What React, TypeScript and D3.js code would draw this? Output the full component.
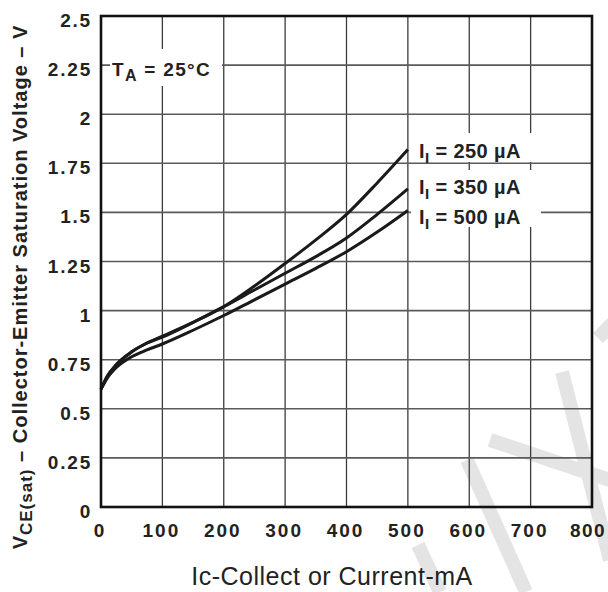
import React from "react";
import * as d3 from "d3";

// collector current (mA) sampled along each curve
const icValues = [0, 10, 25, 50, 75, 100, 150, 200, 250, 300, 350, 400, 450, 500];

// VCE(sat) in volts for each base current
const vce250 = [0.6, 0.665, 0.725, 0.79, 0.835, 0.87, 0.94, 1.02, 1.125, 1.24, 1.36, 1.49, 1.65, 1.82];
const vce350 = [0.6, 0.665, 0.725, 0.79, 0.835, 0.865, 0.94, 1.02, 1.105, 1.19, 1.275, 1.37, 1.49, 1.62];
const vce500 = [0.6, 0.655, 0.71, 0.765, 0.8, 0.83, 0.9, 0.975, 1.055, 1.135, 1.215, 1.3, 1.4, 1.51];

const seriesLabels = ["250 µA", "350 µA", "500 µA"];

const xTicks = [0, 100, 200, 300, 400, 500, 600, 700, 800];
const yTicks = [0, 0.25, 0.5, 0.75, 1, 1.25, 1.5, 1.75, 2, 2.25, 2.5];
const yTickLabels = ["0", "0.25", "0.5", "0.75", "1", "1.25", "1.5", "1.75", "2", "2.25", "2.5"];

// faint watermark strokes in the lower right
const watermark = [
  [467, 460, 526, 592],
  [562, 372, 610, 560],
  [490, 440, 610, 480],
  [418, 545, 440, 592],
  [598, 338, 614, 322],
];

const W = 608;
const H = 592;
const left = 101, right = 592, top = 16, bottom = 507;
const font = "'Liberation Sans', Arial, sans-serif";

export default function App() {
  const x = d3.scaleLinear().domain([0, 800]).range([left, right]);
  const y = d3.scaleLinear().domain([0, 2.5]).range([bottom, top]);

  const line = d3
    .line<number>()
    .x((d, i) => x(icValues[i]))
    .y((d) => y(d))
    .curve(d3.curveMonotoneX);

  const series = [vce250, vce350, vce500];
  // label baselines sit next to each curve end
  const labelY = [158, 194, 224];

  return (
    <svg
      width={W}
      height={H}
      style={{ position: "absolute", left: 0, top: 0, background: "#fff" }}
      fontFamily={font}
    >
      <rect x={0} y={0} width={W} height={H} fill="#fff" />
      {watermark.map((w, i) => (
        <line key={i} x1={w[0]} y1={w[1]} x2={w[2]} y2={w[3]} stroke="#e4e4e4" strokeWidth={14} />
      ))}

      {/* grid */}
      {xTicks.slice(1, -1).map((t) => (
        <line key={"gx" + t} x1={x(t)} x2={x(t)} y1={top} y2={bottom} stroke="#3c3c3c" strokeWidth={1.3} />
      ))}
      {yTicks.slice(1, -1).map((t) => (
        <line key={"gy" + t} x1={left} x2={right} y1={y(t)} y2={y(t)} stroke="#5a5a5a" strokeWidth={1.6} />
      ))}

      {/* label backgrounds cut the grid */}
      <rect x={110} y={49} width={112} height={37} fill="#fff" />
      <rect x={411} y={133} width={130} height={29} fill="#fff" />
      <rect x={411} y={170} width={130} height={57} fill="#fff" />

      {/* curves */}
      {series.map((s, i) => (
        <path key={i} d={line(s) || ""} fill="none" stroke="#1a1a1a" strokeWidth={3} />
      ))}

      {/* frame */}
      <rect x={left} y={top} width={right - left} height={bottom - top} fill="none" stroke="#111" strokeWidth={2.6} />

      {/* tick labels */}
      {yTicks.map((t, i) => (
        <text key={"yl" + t} x={92} y={y(t) + 11} textAnchor="end" fontSize={19} fontWeight="bold" letterSpacing={1.8} fill="#222">
          {yTickLabels[i]}
        </text>
      ))}
      {xTicks.map((t, i) => {
        const last = i === xTicks.length - 1;
        return (
          <text
            key={"xl" + t}
            x={last ? 606 : x(t) - 1}
            y={537}
            textAnchor={last ? "end" : "middle"}
            fontSize={19}
            fontWeight="bold"
            letterSpacing={last ? 1.4 : 2}
            fill="#222"
          >
            {t}
          </text>
        );
      })}

      {/* annotations */}
      <text x={112} y={76} fontSize={19} fontWeight="bold" letterSpacing={1.3} fill="#222">
        T<tspan fontSize={16} dy={5}>A</tspan>
        <tspan dy={-5}> = 25°C</tspan>
      </text>
      {seriesLabels.map((l, i) => (
        <text key={l} x={419} y={labelY[i]} fontSize={20} fontWeight="bold" letterSpacing={0.4} fill="#222">
          I<tspan fontSize={15} dy={5}>I</tspan>
          <tspan dy={-5}> = {l}</tspan>
        </text>
      ))}

      {/* axis titles */}
      <text x={332} y={585} textAnchor="middle" fontSize={25} letterSpacing={0.5} fill="#222">
        Ic-Collect or Current-mA
      </text>
      <text
        transform="translate(27,287) rotate(-90)"
        textAnchor="middle"
        fontSize={20}
        fontWeight="bold"
        letterSpacing={1}
        fill="#222"
      >
        V<tspan fontSize={17} dy={5}>CE(sat)</tspan>
        <tspan dy={-5}> – Collector-Emitter Saturation Voltage – V</tspan>
      </text>
    </svg>
  );
}
